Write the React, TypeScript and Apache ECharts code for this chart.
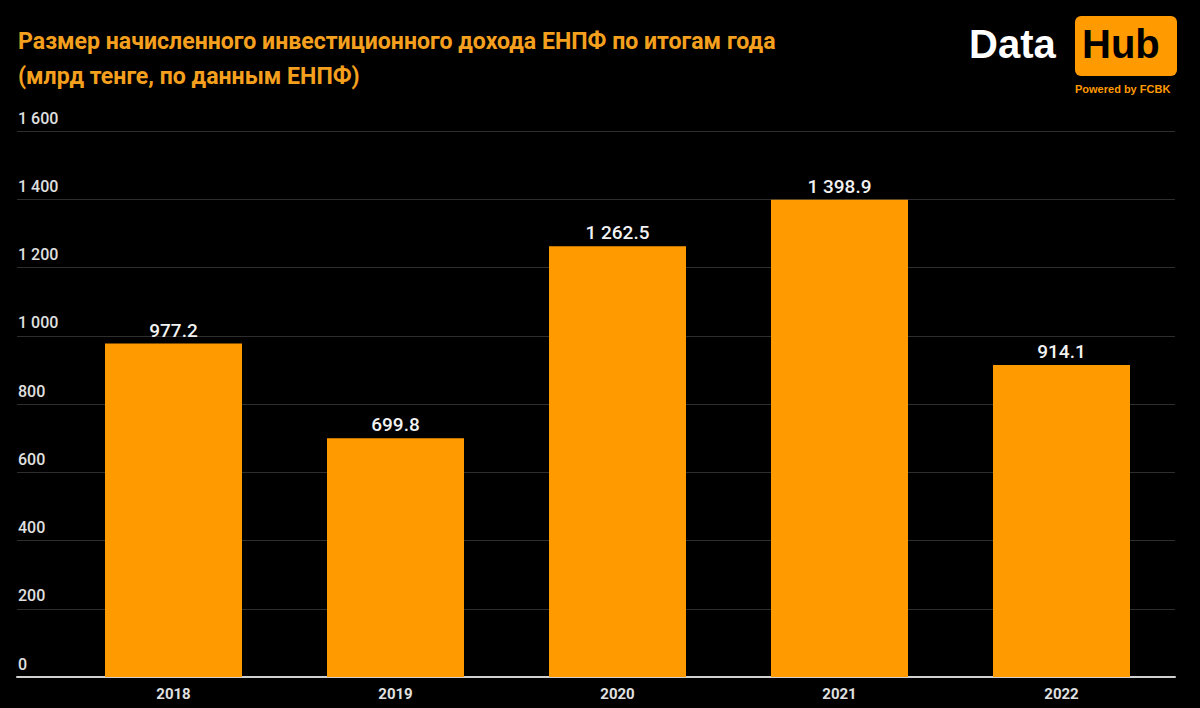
import React, { useEffect, useRef } from "react";
import * as echarts from "echarts";

const categories = ["2018", "2019", "2020", "2021", "2022"];
const values = [977.2, 699.8, 1262.5, 1398.9, 914.1];
const yTicks = { min: 0, max: 1600, interval: 200 };
const titleLines = [
  "Размер начисленного инвестиционного дохода ЕНПФ по итогам года",
  "(млрд тенге, по данным ЕНПФ)",
];

const ORANGE = "#FF9A00";
const TITLE = "#F4A01E";

function spaced(s: string): string {
  return s.replace(/\B(?=(\d{3})+(?!\d))/g, " ");
}
function fmtVal(v: number): string {
  const [i, d] = v.toFixed(1).split(".");
  return spaced(i) + "." + d;
}

export default function App() {
  const ref = useRef<HTMLDivElement>(null);
  useEffect(() => {
    if (!ref.current) return;
    const chart = echarts.init(ref.current, null, { renderer: "svg" });
    const font = "Roboto, 'Noto Sans', sans-serif";
    chart.setOption({
      animation: false,
      backgroundColor: "#000",
      textStyle: { fontFamily: font },
      grid: [
        { left: 17, right: 25, top: 131, bottom: 31 },
        { left: 62.5, right: 27.5, top: 131, bottom: 31 },
      ],
      xAxis: [
        {
          gridIndex: 0,
          type: "category",
          data: categories,
          axisLine: { show: true, lineStyle: { color: "#d0d0d0", width: 2 } },
          axisTick: { show: false },
          axisLabel: { show: false },
        },
        {
          gridIndex: 1,
          type: "category",
          data: categories,
          axisLine: { show: false },
          axisTick: { show: false },
          axisLabel: {
            color: "#e0e0e0",
            fontSize: 15,
            fontWeight: "bold",
            margin: 9,
            fontFamily: font,
          },
        },
      ],
      yAxis: [
        {
          gridIndex: 0,
          type: "value",
          min: yTicks.min,
          max: yTicks.max,
          interval: yTicks.interval,
          axisLine: { show: false },
          axisTick: { show: false },
          splitLine: { show: true, lineStyle: { color: "#2e2e2e", width: 1 } },
          axisLabel: {
            inside: true,
            margin: 1,
            align: "left",
            verticalAlign: "bottom",
            padding: [0, 0, 5, 0],
            color: "#e0e0e0",
            fontSize: 16,
            fontWeight: 500,
            fontFamily: font,
            formatter: (v: number) => spaced(String(v)),
          },
          z: 0,
        },
        {
          gridIndex: 1,
          type: "value",
          min: yTicks.min,
          max: yTicks.max,
          interval: yTicks.interval,
          show: false,
          splitLine: { show: false },
        },
      ],
      series: [
        {
          type: "bar",
          xAxisIndex: 1,
          yAxisIndex: 1,
          data: values,
          barWidth: 137,
          itemStyle: { color: ORANGE },
          label: {
            show: true,
            position: "top",
            distance: 4,
            color: "#f2f2f2",
            fontSize: 19,
            fontWeight: 500,
            fontFamily: font,
            formatter: (p: any) => fmtVal(p.value),
          },
          z: 3,
        },
      ],
      graphic: [
        {
          type: "text",
          x: 18,
          y: 41,
          scaleX: 0.963,
          style: {
            text: titleLines[0],
            fill: TITLE,
            font: "bold 24px Roboto, sans-serif",
            textVerticalAlign: "middle",
          },
        },
        {
          type: "text",
          x: 18,
          y: 76,
          scaleX: 0.963,
          style: {
            text: titleLines[1],
            fill: TITLE,
            font: "bold 24px Roboto, sans-serif",
            textVerticalAlign: "middle",
          },
        },
        {
          type: "text",
          left: 969,
          top: 24,
          style: {
            text: "Data",
            fill: "#ffffff",
            font: "bold 40px 'Liberation Sans', Arial, sans-serif",
          },
        },
        {
          type: "rect",
          shape: { x: 1075, y: 16, width: 102, height: 60, r: 6 },
          style: { fill: ORANGE },
        },
        {
          type: "text",
          left: 1082,
          top: 24,
          style: {
            text: "Hub",
            fill: "#000000",
            font: "bold 40px 'Liberation Sans', Arial, sans-serif",
          },
        },
        {
          type: "text",
          left: 1075,
          top: 83,
          style: {
            text: "Powered by FCBK",
            fill: ORANGE,
            font: "bold 11px 'Liberation Sans', Arial, sans-serif",
          },
        },
      ],
    });
    return () => chart.dispose();
  }, []);
  return <div ref={ref} style={{ width: 1200, height: 708, position: "fixed", left: 0, top: 0 }} />;
}
